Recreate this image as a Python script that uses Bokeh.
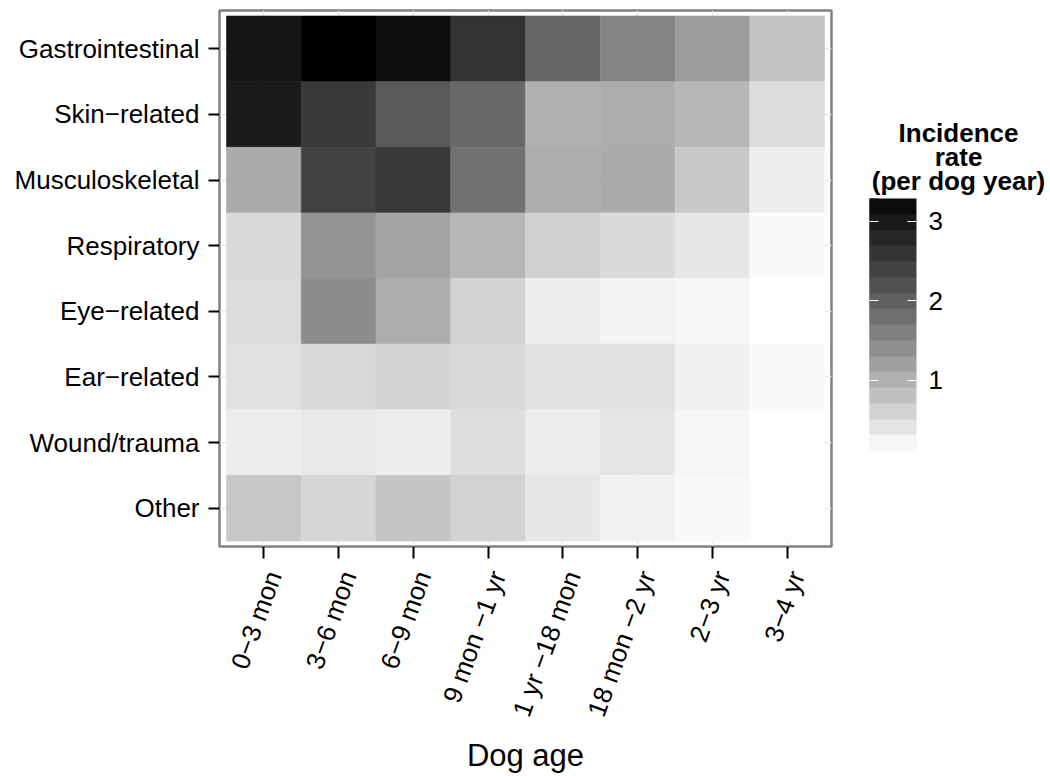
import numpy as np
from bokeh.plotting import figure
from bokeh.layouts import row
from bokeh.models import (ColumnDataSource, LinearColorMapper, ColorBar, FixedTicker, Range1d)
from bokeh.core.properties import value
from bokeh.transform import transform
from bokeh.embed import file_html
from bokeh.resources import INLINE

# ---------------- data ----------------
ages = ["0\u22123 mon", "3\u22126 mon", "6\u22129 mon", "9 mon \u22121 yr",
        "1 yr \u221218 mon", "18 mon \u22122 yr", "2\u22123 yr", "3\u22124 yr"]
conditions = ["Gastrointestinal", "Skin\u2212related", "Musculoskeletal", "Respiratory",
              "Eye\u2212related", "Ear\u2212related", "Wound/trauma", "Other"]
gastrointestinal = [3.04, 3.285, 3.16, 2.61, 1.92, 1.54, 1.25, 0.79]
skin_related     = [2.97, 2.53, 2.09, 1.89, 1.03, 1.06, 0.93, 0.51]
musculoskeletal  = [1.08, 2.40, 2.54, 1.78, 1.06, 1.08, 0.73, 0.31]
respiratory      = [0.53, 1.35, 1.15, 0.94, 0.64, 0.52, 0.39, 0.18]
eye_related      = [0.51, 1.42, 1.07, 0.62, 0.31, 0.25, 0.22, 0.14]
ear_related      = [0.46, 0.55, 0.61, 0.54, 0.47, 0.46, 0.29, 0.18]
wound_trauma     = [0.33, 0.37, 0.31, 0.49, 0.34, 0.41, 0.23, 0.12]
other            = [0.75, 0.58, 0.77, 0.62, 0.39, 0.28, 0.20, 0.15]
colorbar_ticks = [1, 2, 3]
legend_title = ["Incidence", "rate", "(per dog year)"]
x_title = "Dog age"

rows = [gastrointestinal, skin_related, musculoskeletal, respiratory,
        eye_related, ear_related, wound_trauma, other]

# ---------------- colour scale (white -> black, interpolated in Lab) -------------
def lab_gray(L):
    fy = (L + 16.0) / 116.0
    Y = fy ** 3 if fy ** 3 > 0.008856 else L / 903.3
    c = 12.92 * Y if Y <= 0.0031308 else 1.055 * Y ** (1 / 2.4) - 0.055
    g = int(round(max(0.0, min(1.0, c)) * 255))
    return "#%02x%02x%02x" % (g, g, g)

palette = [lab_gray(100.0 * (1 - i / 255.0)) for i in range(256)]
bar_palette = [lab_gray(100.0 * (1 - (k + 0.5) / 16.0)) for k in range(16)]

all_vals = [v for r in rows for v in r]
vmin, vmax = min(all_vals), max(all_vals)
mapper = LinearColorMapper(palette=palette, low=vmin, high=vmax)
bar_mapper = LinearColorMapper(palette=bar_palette, low=vmin, high=vmax)

n_x, n_y = len(ages), len(conditions)
xs, ys, vals = [], [], []
for i, r in enumerate(rows):
    for j, v in enumerate(r):
        xs.append(j)
        ys.append(n_y - 1 - i)
        vals.append(v)
src = ColumnDataSource(dict(x=xs, y=ys, rate=vals))

FONT = "Liberation Sans"

# ---------------- main heatmap ----------------
p = figure(width=850, height=776,
           x_range=Range1d(-0.594, n_x - 1 + 0.594),
           y_range=Range1d(-0.584, n_y - 1 + 0.584),
           output_backend="svg", toolbar_location=None,
           min_border_left=219, min_border_right=19,
           min_border_top=10, min_border_bottom=230)
p.background_fill_color = "white"
p.border_fill_color = "white"
p.outline_line_color = "#808080"
p.outline_line_width = 2.5

p.rect(x="x", y="y", width=1, height=1, source=src,
       fill_color=transform("rate", mapper),
       line_color=transform("rate", mapper), line_width=0.6)

xt = FixedTicker(ticks=list(range(n_x)))
yt = FixedTicker(ticks=list(range(n_y)))
p.xaxis.ticker = xt
p.yaxis.ticker = yt
p.xgrid.ticker = xt
p.ygrid.ticker = yt
p.grid.grid_line_color = "#ebebeb"
p.grid.grid_line_width = 1.5

# leading newline nudges the rotated labels so their top-right corner sits near the tick
p.xaxis.major_label_overrides = {i: "\n" + a for i, a in enumerate(ages)}
p.yaxis.major_label_overrides = {n_y - 1 - i: c for i, c in enumerate(conditions)}
p.xaxis.major_label_orientation = np.deg2rad(70)
p.xaxis.major_label_text_line_height = 0.7

for ax in (p.xaxis, p.yaxis):
    ax.axis_line_color = None
    ax.major_tick_line_color = "black"
    ax.major_tick_line_width = 2
    ax.major_tick_in = 0
    ax.minor_tick_line_color = None
    ax.major_label_text_font = FONT
    ax.major_label_text_font_size = "26px"
    ax.major_label_text_color = "black"
p.yaxis.major_tick_out = 11
p.xaxis.major_tick_out = 12
p.yaxis.major_label_standoff = 9
p.xaxis.major_label_standoff = 10

p.xaxis.axis_label = x_title
p.xaxis.axis_label_text_font = FONT
p.xaxis.axis_label_text_font_size = "31px"
p.xaxis.axis_label_text_font_style = "normal"
p.xaxis.axis_label_text_color = "black"
p.xaxis.axis_label_standoff = 6

# ---------------- legend panel (frame is aligned with the heatmap frame: y 10..546) ----
q = figure(width=200, height=776, x_range=Range1d(850, 1050), y_range=Range1d(546, 10),
           output_backend="svg", toolbar_location=None,
           x_axis_location=None, y_axis_location=None,
           min_border=0, min_border_left=0, min_border_right=0,
           min_border_top=10, min_border_bottom=230)
q.outline_line_color = None
q.background_fill_color = "white"
q.border_fill_color = "white"
q.grid.visible = False

cb = ColorBar(color_mapper=bar_mapper, width=47, height=252, location=(19, 96),
              padding=0, ticker=FixedTicker(ticks=colorbar_ticks),
              major_label_text_font=FONT, major_label_text_font_size="26px",
              major_label_text_color="black",
              major_tick_in=9, major_tick_out=0, major_tick_line_color="white",
              major_tick_line_width=1, label_standoff=12,
              bar_line_color=None, border_line_color=None,
              background_fill_color=None)
q.add_layout(cb, "center")

# narrow overlay of the same bar: gives the white tick marks on the bar's left edge
cb_left = ColorBar(color_mapper=bar_mapper, width=9, height=252, location=(19, 96),
                   padding=0, ticker=FixedTicker(ticks=colorbar_ticks),
                   major_label_text_font_size="26px", major_label_text_alpha=0,
                   major_tick_in=9, major_tick_out=0, major_tick_line_color="white",
                   major_tick_line_width=1, label_standoff=12,
                   bar_line_color=None, border_line_color=None,
                   background_fill_color=None)
q.add_layout(cb_left, "center")

q.text(x=[958, 958, 958], y=[132, 156, 180], text=legend_title,
       text_align="center", text_baseline="alphabetic",
       text_font=value(FONT), text_font_size="26px", text_font_style="bold",
       text_color="black")

layout = row(p, q, spacing=0)
open("out.html", "w").write(file_html(layout, INLINE))
